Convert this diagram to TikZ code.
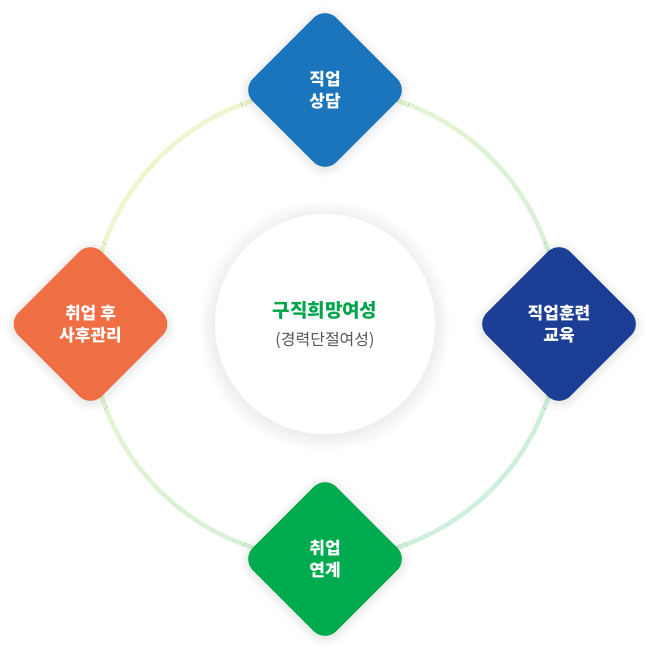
\documentclass[tikz,border=0pt]{standalone}
\usepackage{fontspec}
\setmainfont{Noto Sans CJK KR}
\usetikzlibrary{shapes.geometric,shadows.blur}

\definecolor{counselblue}{HTML}{1B75BC}
\definecolor{trainnavy}{HTML}{1C3F95}
\definecolor{linkgreen}{HTML}{00AA4E}
\definecolor{careorange}{HTML}{F06E43}
\definecolor{titlegreen}{HTML}{00A54B}
\definecolor{subgray}{HTML}{555555}
\definecolor{ringtop}{HTML}{EEF6CE}
\definecolor{ringbot}{HTML}{CDEFDB}

\tikzset{
  stagebox/.style={diamond, aspect=1, inner sep=0pt, minimum size=167pt,
    rounded corners=16pt, text=white, align=center,
    font=\fontsize{17}{22}\selectfont\bfseries,
    blur shadow={shadow xshift=0pt, shadow yshift=-2pt,
      shadow blur radius=10pt, shadow opacity=15}},
}

\begin{document}
\begin{tikzpicture}[x=1pt, y=1pt, every node/.style={inner sep=0pt}]
\useasboundingbox (0,0) rectangle (656,656);

\coordinate (O) at (325,332);
\coordinate (N) at (325,566);
\coordinate (S) at (325,97);
\coordinate (E) at (559,332);
\coordinate (W) at (90.5,332);

% ring
\shade[even odd rule, top color=ringtop, bottom color=ringbot, shading angle=45]
  (O) circle (237) (O) circle (232.5);

% centre, soft glow first
\foreach \r in {1,...,16}
  \fill[black, opacity=0.005] ([yshift=-2pt]O) circle (110+\r);
\node[circle, minimum size=220pt, fill=white] (core) at (O) {};
\node[font=\fontsize{19}{22}\selectfont\bfseries, text=titlegreen] (title) at (325,346) {구직희망여성};
\node[font=\fontsize{16}{18}\selectfont, text=subgray] (subtitle) at (325,316) {(경력단절여성)};

% stages
\node[stagebox, fill=counselblue] (counsel) at (N) {직업\\상담};
\node[stagebox, fill=trainnavy] (train) at (E) {직업훈련\\교육};
\node[stagebox, fill=linkgreen] (link) at (S) {취업\\연계};
\node[stagebox, fill=careorange] (care) at (W) {취업 후\\사후관리};

\end{tikzpicture}
\end{document}
